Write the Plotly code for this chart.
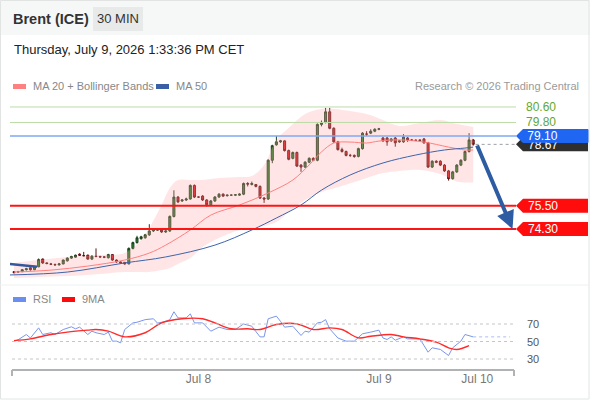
import plotly.graph_objects as go

W, H = 590, 400

# ---------------- data ----------------
opens = [72.10,72.08,72.10,72.20,72.30,72.20,72.35,72.75,72.55,72.50,72.47,72.45,72.50,72.66,72.80,72.85,73.00,72.93,72.95,72.75,
         72.90,72.88,72.86,72.82,72.98,72.70,72.60,72.58,72.50,73.30,73.60,73.80,73.85,74.00,74.20,74.25,74.30,74.15,74.20,74.95,
         75.95,75.75,75.80,75.85,76.55,75.95,76.00,75.80,75.55,75.75,75.95,76.10,76.02,76.05,76.05,76.05,76.10,76.65,76.60,76.60,
         76.50,75.90,75.85,77.85,78.65,78.80,78.85,78.35,77.95,78.25,77.60,77.50,77.75,77.95,77.85,79.70,79.80,80.35,79.50,78.80,
         78.40,78.30,78.10,78.10,78.05,78.45,79.20,79.25,79.35,79.45,79.00,79.00,78.85,79.00,78.80,78.80,79.00,78.90,78.88,78.90,
         78.95,78.75,77.50,77.80,77.80,77.60,77.30,76.90,77.25,77.60,77.85,78.30,78.90]
highs = [72.12,72.14,72.24,72.30,72.34,72.40,72.78,72.78,72.58,72.55,72.52,72.55,72.72,72.84,72.92,72.98,73.05,73.12,72.98,72.94,
         73.30,72.92,72.90,73.02,73.00,72.73,72.64,72.60,73.35,73.65,73.95,73.95,74.05,74.55,74.30,74.32,74.35,74.24,75.00,76.30,
         76.00,75.85,75.92,76.60,76.60,75.98,76.05,75.84,75.80,76.00,76.15,76.14,76.08,76.08,76.10,76.14,76.70,76.72,76.75,76.62,
         76.55,75.95,77.90,78.65,79.10,78.90,78.88,78.40,78.30,78.30,77.65,77.80,78.00,78.00,79.75,79.90,80.55,80.55,79.55,78.85,
         78.50,78.35,78.18,78.15,78.50,79.30,79.35,79.45,79.50,79.52,79.05,79.05,79.00,79.05,78.90,79.20,79.05,78.95,78.92,78.93,
         79.00,78.80,77.85,77.85,77.85,77.65,77.35,77.30,77.65,77.90,78.35,79.25,78.95]
lows = [72.02,72.05,72.08,72.16,72.15,72.18,72.33,72.50,72.48,72.44,72.42,72.42,72.48,72.62,72.76,72.82,72.92,72.88,72.72,72.70,
        72.85,72.82,72.80,72.78,72.66,72.56,72.52,72.46,72.48,73.25,73.55,73.75,73.80,73.95,74.15,74.20,74.10,74.10,74.15,74.90,
        75.65,75.70,75.75,75.82,75.90,75.92,75.75,75.45,75.50,75.70,75.92,75.96,75.98,76.01,76.02,76.02,76.05,76.50,76.55,76.45,
        75.85,75.65,75.80,77.70,78.60,78.75,78.30,77.85,77.90,77.50,77.25,77.45,77.70,77.80,77.80,79.60,79.75,79.45,78.75,78.35,
        78.25,78.05,78.02,77.98,78.00,78.40,79.10,79.20,79.30,79.40,78.80,78.60,78.80,78.55,78.75,78.75,78.80,78.85,78.84,78.83,
        78.70,77.45,77.45,77.70,77.55,77.25,76.80,76.85,77.20,77.55,77.80,78.25,78.60]
closes = [72.05,72.10,72.20,72.25,72.20,72.35,72.72,72.55,72.52,72.48,72.45,72.50,72.70,72.80,72.88,72.95,72.95,72.92,72.75,72.90,
          72.88,72.86,72.85,72.98,72.70,72.60,72.55,72.50,73.30,73.60,73.85,73.90,74.00,74.20,74.25,74.25,74.15,74.20,74.95,75.95,
          75.70,75.80,75.85,76.55,75.95,75.95,75.80,75.55,75.75,75.95,76.10,76.00,76.05,76.05,76.07,76.10,76.65,76.62,76.65,76.50,
          75.90,75.85,77.85,78.60,78.80,78.85,78.35,77.90,78.25,77.55,77.50,77.75,77.95,77.85,79.70,79.80,80.35,79.50,78.80,78.40,
          78.30,78.10,78.10,78.05,78.45,79.25,79.20,79.35,79.45,79.47,78.85,78.80,78.95,78.75,78.85,79.05,78.90,78.88,78.88,78.87,
          78.75,77.50,77.80,77.75,77.60,77.30,76.90,77.25,77.60,77.85,78.30,78.90,78.67]
candle_idx = list(range(len(closes)))

bb_idx = [0, 6, 13, 21, 27, 31, 33, 36, 38, 40, 43, 46, 50, 55, 58, 61, 64, 67, 71, 75, 80, 86, 90, 94, 99, 104, 108, 112]
bb_upper = [72.55, 72.70, 72.86, 72.96, 73.06, 73.73, 74.35, 75.54, 76.42, 76.83, 76.83, 76.83, 76.93, 76.98, 77.04, 77.61,
            78.90, 79.52, 80.24, 80.50, 80.45, 80.24, 79.93, 79.62, 79.77, 79.93, 79.72, 79.57]
bb_lower = [71.77, 71.82, 71.87, 71.98, 72.08, 72.08, 72.08, 72.18, 72.29, 72.50, 72.80, 73.37, 73.84, 74.25, 74.35, 74.46,
            74.66, 75.18, 75.80, 76.21, 76.52, 76.93, 77.19, 77.30, 77.35, 77.14, 76.75, 76.70]
ma20_idx = [0, 9, 18, 27, 33, 37, 43, 48, 55, 62, 68, 72, 75, 78, 82, 86, 89, 94, 100, 106, 110, 112]
ma20 = [72.08, 72.18, 72.39, 72.70, 73.06, 73.47, 74.25, 75.02, 75.54, 76.16, 76.83, 77.61, 78.28, 78.74, 78.79, 78.74,
        78.84, 78.90, 78.79, 78.53, 78.38, 78.38]
ma50_idx = [-1, 13, 27, 37, 49, 58, 64, 70, 75, 82, 90, 98, 105, 110, 112]
ma50 = [71.93, 72.08, 72.55, 72.86, 73.47, 74.25, 74.87, 75.54, 76.31, 77.09, 77.71, 78.12, 78.38, 78.48, 78.53]

old_arrow_idx = [-1, 5.6]
old_arrow_val = [72.50, 72.35]

rsi_idx = [0, 1, 3, 4, 6, 7, 9, 10, 12, 14, 15, 16, 18, 19, 20, 22, 23, 24, 25, 26, 27, 29, 30, 32, 34, 35, 37, 38, 39, 40,
           42, 43, 44, 46, 48, 50, 52, 54, 56, 58, 60, 61, 62, 64, 65, 66, 68, 70, 71, 72, 74, 75, 76, 77, 79, 81, 83, 85, 87,
           89, 90, 91, 92, 93, 95, 96, 99, 101, 102, 104, 106, 107, 109, 110, 112]
rsi = [50.4, 52, 58, 54, 65.6, 58, 60, 58, 63.7, 66.8, 64.5, 66.4, 58, 61.8, 60, 58, 60.7, 50.4, 50.4, 48.5, 63.7, 71.3, 72,
       75, 76, 71, 73, 75, 84, 77, 77, 81.6, 71.3, 71.3, 61.8, 66.4, 63.7, 63.7, 70, 67.5, 55.3, 55.3, 76, 79, 73, 66.4, 67.5,
       56.9, 61.8, 60.7, 71.3, 72, 75, 64.5, 54, 50.4, 50.4, 58.8, 60.7, 63, 54, 52.3, 55.3, 51.5, 55.3, 53, 53, 37.8, 42.8,
       40.9, 34, 42.8, 50.4, 58, 55.3]
ma9_idx = [0, 4, 9, 13, 18, 20, 23, 27, 32, 36, 41, 46, 49, 53, 57, 60, 64, 69, 73, 77, 80, 84, 87, 92, 95, 99, 103, 106, 108, 111]
ma9 = [51, 53, 58, 60.7, 63, 63.7, 61.8, 55.3, 60, 71.3, 76, 76, 71.3, 64.5, 64.5, 63.7, 69.4, 70.2, 63.7, 65.6, 63.7, 54.2,
       56, 58, 55.3, 53, 49.2, 42.8, 40.9, 45.4]

tick_vals = [45, 89, 113]
tick_text = ["Jul 8", "Jul 9", "Jul 10"]

level_green = [80.60, 79.80]
level_blue = 79.10
level_red = [75.50, 74.30]
last_price = 78.67
rsi_levels = [70, 50, 30]

arrow_from = (112.8, 78.69)
arrow_to = (121.6, 74.30)

# ---------------- layout helpers (pixel -> paper) ----------------
def PX(x):
    return x / W

def PY(y):
    return 1 - y / H

FONT = "Liberation Sans, Arial, sans-serif"
x_range = [-0.98, 122.2]
price_range = [71.67, 80.96]
rsi_range = [17.43, 86.0]

fig = go.Figure()

# Bollinger band fill
fig.add_trace(go.Scatter(x=bb_idx, y=bb_upper, mode="lines", line=dict(width=0, shape="spline"),
                         hoverinfo="skip", showlegend=False, xaxis="x", yaxis="y"))
fig.add_trace(go.Scatter(x=bb_idx, y=bb_lower, mode="lines", line=dict(width=0, shape="spline"),
                         fill="tonexty", fillcolor="rgba(255,160,160,0.28)",
                         hoverinfo="skip", showlegend=False, xaxis="x", yaxis="y"))
fig.add_trace(go.Scatter(x=ma20_idx, y=ma20, mode="lines", line=dict(color="#ff8080", width=1, shape="spline"),
                         showlegend=False, xaxis="x", yaxis="y"))
fig.add_trace(go.Scatter(x=ma50_idx, y=ma50, mode="lines", line=dict(color="#3d64ad", width=1, shape="spline"),
                         showlegend=False, xaxis="x", yaxis="y"))
fig.add_trace(go.Scatter(x=old_arrow_idx, y=old_arrow_val, mode="lines", line=dict(color="#34589c", width=2.5),
                         showlegend=False, xaxis="x", yaxis="y"))

fig.add_trace(go.Candlestick(
    x=candle_idx, open=opens, high=highs, low=lows, close=closes,
    increasing=dict(line=dict(color="#1f3f1f", width=1), fillcolor="#2a8a2a"),
    decreasing=dict(line=dict(color="#5a1010", width=1), fillcolor="#e01b1b"),
    whiskerwidth=0, showlegend=False, xaxis="x", yaxis="y"))

# last price dotted extension
fig.add_trace(go.Scatter(x=[candle_idx[-1] + 0.6, x_range[1]], y=[last_price, last_price], mode="lines",
                         line=dict(color="#9aa0a6", width=1, dash="dot"), showlegend=False, xaxis="x", yaxis="y"))

# RSI
fig.add_trace(go.Scatter(x=rsi_idx, y=rsi, mode="lines", line=dict(color="#7a96ea", width=1),
                         showlegend=False, xaxis="x2", yaxis="y2"))
fig.add_trace(go.Scatter(x=[rsi_idx[-1], 121.0], y=[rsi[-1], rsi[-1]], mode="lines",
                         line=dict(color="#a9bdf3", width=1, dash="dot"), showlegend=False, xaxis="x2", yaxis="y2"))
fig.add_trace(go.Scatter(x=ma9_idx, y=ma9, mode="lines", line=dict(color="#ff2a2a", width=1.4, shape="spline"),
                         showlegend=False, xaxis="x2", yaxis="y2"))

shapes = []
# outer border and header band
shapes.append(dict(type="rect", xref="paper", yref="paper", x0=PX(0), x1=PX(590), y0=PY(35), y1=PY(0),
                   fillcolor="#f6f7f7", line=dict(width=0), layer="below"))
shapes.append(dict(type="rect", xref="paper", yref="paper", x0=PX(0.5), x1=PX(589), y0=PY(399), y1=PY(0.5),
                   fillcolor="rgba(0,0,0,0)", line=dict(color="#e2e4e4", width=1)))
shapes.append(dict(type="rect", xref="paper", yref="paper", x0=PX(93), x1=PX(143), y0=PY(31), y1=PY(7),
                   fillcolor="#e8e9e9", line=dict(width=0)))
# separator between panels
shapes.append(dict(type="line", xref="paper", yref="paper", x0=PX(0), x1=PX(590), y0=PY(285), y1=PY(285),
                   line=dict(color="#eef0f0", width=1)))

# horizontal levels
for v in level_green:
    shapes.append(dict(type="line", xref="paper", yref="y", x0=PX(10), x1=PX(516), y0=v, y1=v,
                       line=dict(color="#bcdca6", width=1)))
shapes.append(dict(type="line", xref="paper", yref="y", x0=PX(10), x1=PX(516), y0=level_blue, y1=level_blue,
                   line=dict(color="#7ea8f5", width=1.6)))
for v in level_red:
    shapes.append(dict(type="line", xref="paper", yref="y", x0=PX(10), x1=PX(516), y0=v, y1=v,
                       line=dict(color="#ff1414", width=2)))

# RSI dotted levels
for v in rsi_levels:
    shapes.append(dict(type="line", xref="paper", yref="y2", x0=PX(12), x1=PX(515), y0=v, y1=v,
                       line=dict(color="#c4c6c8", width=1, dash="dot")))
# bottom axis line with end ticks
shapes.append(dict(type="line", xref="paper", yref="paper", x0=PX(12), x1=PX(514), y0=PY(370), y1=PY(370),
                   line=dict(color="#b0b2b4", width=2)))
for xx in (12, 514):
    shapes.append(dict(type="line", xref="paper", yref="paper", x0=PX(xx), x1=PX(xx), y0=PY(370), y1=PY(376),
                       line=dict(color="#b0b2b4", width=2)))

# price tags (arrow-shaped)
TAG_H = 7 / 19.37
def tag(price, color):
    xl, xb, xr = PX(516), PX(523), PX(588)
    path = (f"M {xl},{price} L {xb},{price + TAG_H} L {xr},{price + TAG_H} "
            f"L {xr},{price - TAG_H} L {xb},{price - TAG_H} Z")
    return dict(type="path", xref="paper", yref="y", path=path, fillcolor=color, line=dict(width=0))

shapes.append(tag(last_price, "#2f2f2f"))
shapes.append(tag(level_blue, "#1f66f2"))
for v in level_red:
    shapes.append(tag(v, "#ff0d0d"))

# legend swatches
shapes.append(dict(type="rect", xref="paper", yref="paper", x0=PX(13), x1=PX(26), y0=PY(89), y1=PY(84),
                   fillcolor="#ff8080", line=dict(width=0)))
shapes.append(dict(type="rect", xref="paper", yref="paper", x0=PX(156), x1=PX(169), y0=PY(89), y1=PY(84),
                   fillcolor="#3a5fa6", line=dict(width=0)))
shapes.append(dict(type="rect", xref="paper", yref="paper", x0=PX(13), x1=PX(26), y0=PY(302), y1=PY(297),
                   fillcolor="#6b8ff0", line=dict(width=0)))
shapes.append(dict(type="rect", xref="paper", yref="paper", x0=PX(62), x1=PX(75), y0=PY(302), y1=PY(297),
                   fillcolor="#ff0a0a", line=dict(width=0)))

ann = []
def text(x, y, s, size=11, color="#888", anchor="left", bold=False, yref="paper", **kw):
    ann.append(dict(xref="paper", yref=yref, x=PX(x),
                    y=PY(y) if yref == "paper" else y, text=(f"<b>{s}</b>" if bold else s),
                    showarrow=False, xanchor=anchor, yanchor="middle",
                    font=dict(family=FONT, size=size, color=color), **kw))

text(11, 19, "Brent (ICE)", size=14.5, color="#333", bold=True)
text(118, 19, "30 MIN", size=13, color="#333", anchor="center")
text(12, 49, "Thursday, July 9, 2026 1:33:36 PM CET", size=13, color="#222")
text(31, 86, "MA 20 + Bollinger Bands", size=11, color="#888")
text(174, 86, "MA 50", size=11, color="#888")
text(581, 86, "Research © 2026 Trading Central", size=11, color="#9a9a9a", anchor="right")
text(31, 299, "RSI", size=11, color="#888")
text(80, 299, "9MA", size=11, color="#888")

for v in level_green:
    text(524, v, f"{v:.2f}", size=12, color="#62a82e", yref="y")
# last price text first, then the blue tag box covers its upper part (as in the original)
text(526, last_price, f"{last_price:.2f}", size=12, color="#ffffff", yref="y", yshift=-1)
text(523, level_blue, f"&nbsp;{level_blue:.2f}", size=12, color="#ffffff", yref="y",
     bgcolor="#1f66f2", width=64, height=12, align="left", borderpad=0)
for v in level_red:
    text(526, v, f"{v:.2f}", size=12, color="#ffffff", yref="y")
for v in rsi_levels:
    text(525, v, f"{v}", size=11, color="#555", yref="y2")

# forecast arrow
ann.append(dict(xref="x", yref="y", axref="x", ayref="y", x=arrow_to[0], y=arrow_to[1],
                ax=arrow_from[0], ay=arrow_from[1], showarrow=True, arrowhead=2, arrowsize=0.9,
                arrowwidth=4, arrowcolor="#2d5ca3", standoff=0, text=""))

fig.update_layout(
    width=W, height=H, margin=dict(l=0, r=0, t=0, b=0),
    paper_bgcolor="#ffffff", plot_bgcolor="rgba(0,0,0,0)",
    showlegend=False, hovermode=False,
    font=dict(family=FONT),
    xaxis=dict(domain=[PX(10), PX(515)], range=x_range, showgrid=False, zeroline=False,
               showticklabels=False, rangeslider=dict(visible=False), anchor="y"),
    yaxis=dict(domain=[PY(280), PY(100)], range=price_range, showgrid=False, zeroline=False,
               showticklabels=False, anchor="x"),
    xaxis2=dict(domain=[PX(10), PX(515)], range=x_range, showgrid=False, zeroline=False,
                tickmode="array", tickvals=tick_vals, ticktext=tick_text, ticks="",
                tickfont=dict(family=FONT, size=12, color="#777"), anchor="y2", automargin=False),
    yaxis2=dict(domain=[PY(370), PY(310)], range=rsi_range, showgrid=False, zeroline=False,
                showticklabels=False, anchor="x2"),
    shapes=shapes, annotations=ann,
)

fig.write_html("out.html", config={"displayModeBar": False, "staticPlot": True},
               post_script="document.body.style.margin='0px';document.body.style.overflow='hidden';")
